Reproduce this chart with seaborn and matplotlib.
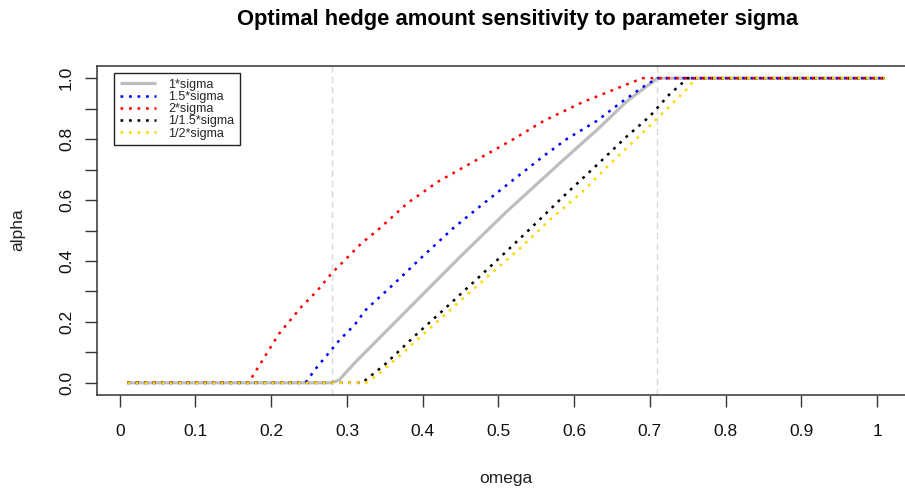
import numpy as np
import pandas as pd
import matplotlib
matplotlib.use("Agg")
import matplotlib.pyplot as plt
from matplotlib.ticker import FixedLocator, FixedFormatter
import seaborn as sns

# Optimal hedge ratio alpha as a function of omega, for scaled volatilities
omega_1 = [0.01, 0.28, 0.29, 0.31, 0.34, 0.38, 0.45, 0.51, 0.585, 0.63, 0.67, 0.71, 1.01]
alpha_1 = [0, 0, 0.01, 0.065, 0.14, 0.24, 0.415, 0.56, 0.73, 0.83, 0.925, 1.0, 1.0]

omega_15 = [0.01, 0.245, 0.26, 0.28, 0.29, 0.31, 0.325, 0.36, 0.40, 0.44, 0.48, 0.52, 0.56, 0.59, 0.63, 0.66, 0.69, 0.71, 1.01]
alpha_15 = [0, 0, 0.05, 0.11, 0.14, 0.19, 0.24, 0.32, 0.415, 0.507, 0.588, 0.667, 0.745, 0.80, 0.86, 0.917, 0.97, 1.0, 1.0]

omega_2 = [0.01, 0.17, 0.19, 0.21, 0.24, 0.26, 0.28, 0.30, 0.32, 0.34, 0.38, 0.42, 0.47, 0.52, 0.56, 0.61, 0.66, 0.69, 1.01]
alpha_2 = [0, 0, 0.08, 0.16, 0.25, 0.30, 0.36, 0.41, 0.46, 0.50, 0.59, 0.66, 0.73, 0.80, 0.86, 0.92, 0.97, 1.0, 1.0]

omega_inv15 = [0.01, 0.32, 0.35, 0.39, 0.43, 0.47, 0.51, 0.55, 0.585, 0.63, 0.67, 0.70, 0.725, 0.75, 1.01]
alpha_inv15 = [0, 0, 0.06, 0.155, 0.245, 0.337, 0.43, 0.525, 0.61, 0.715, 0.81, 0.875, 0.945, 1.0, 1.0]

omega_inv2 = [0.01, 0.325, 0.34, 0.37, 0.41, 0.45, 0.49, 0.53, 0.57, 0.61, 0.65, 0.69, 0.72, 0.75, 0.76, 1.01]
alpha_inv2 = [0, 0, 0.025, 0.09, 0.18, 0.27, 0.358, 0.445, 0.54, 0.625, 0.725, 0.82, 0.893, 0.967, 1.0, 1.0]

series_names = ["1*sigma", "1.5*sigma", "2*sigma", "1/1.5*sigma", "1/2*sigma"]
series_omega = [omega_1, omega_15, omega_2, omega_inv15, omega_inv2]
series_alpha = [alpha_1, alpha_15, alpha_2, alpha_inv15, alpha_inv2]
series_colors = ["#BEBEBE", "#0000FF", "#FF0000", "#000000", "#FFD700"]

omega_bounds = [0.28, 0.71]

x_ticks = [0, 0.1, 0.2, 0.3, 0.4, 0.5, 0.6, 0.7, 0.8, 0.9, 1.0]
x_tick_labels = ["0", "0.1", "0.2", "0.3", "0.4", "0.5", "0.6", "0.7", "0.8", "0.9", "1"]
y_ticks = [0, 0.1, 0.2, 0.3, 0.4, 0.5, 0.6, 0.7, 0.8, 0.9, 1.0]
y_tick_labels = ["0.0", "", "0.2", "", "0.4", "", "0.6", "", "0.8", "", "1.0"]

frames = []
for name, om, al in zip(series_names, series_omega, series_alpha):
    frames.append(pd.DataFrame({"series": name, "omega": om, "alpha": al}))
df = pd.concat(frames, ignore_index=True)

sns.set_theme(style="white")
plt.rcParams["font.family"] = ["Liberation Sans", "DejaVu Sans"]

W, H = 905, 488
fig = plt.figure(figsize=(W / 100, H / 100), dpi=100)
ax_left, ax_right, ax_top, ax_bottom = 97, 915, 66, 395
ax = fig.add_axes([ax_left / W, 1 - ax_bottom / H, (ax_right - ax_left) / W, (ax_bottom - ax_top) / H])

for b in omega_bounds:
    ax.axvline(b, color="#D8D8D8", linewidth=1.0, linestyle=(0, (4.5, 3.0)), zorder=1)

for name, color in zip(series_names, series_colors):
    sub = df[df["series"] == name]
    if name == "1*sigma":
        style = dict(linewidth=2.3, linestyle="-", solid_capstyle="butt")
    else:
        style = dict(linewidth=1.8, linestyle=(0, (1.1, 2.3)))
    sns.lineplot(data=sub, x="omega", y="alpha", color=color, label=name,
                 estimator=None, sort=False, ax=ax, zorder=2, **style)

ax.set_xlim(-0.03, 1.05)
ax.set_ylim(-0.04, 1.04)
ax.set_xlabel("")
ax.set_ylabel("")

ax.xaxis.set_major_locator(FixedLocator(x_ticks))
ax.xaxis.set_major_formatter(FixedFormatter(x_tick_labels))
ax.yaxis.set_major_locator(FixedLocator(y_ticks))
ax.yaxis.set_major_formatter(FixedFormatter(y_tick_labels))

ax.tick_params(axis="both", which="major", direction="out", length=8.6, width=1.0,
               color="#333333", labelsize=12.5, labelcolor="#111111",
               bottom=True, left=True)
ax.tick_params(axis="x", pad=12)
ax.tick_params(axis="y", pad=8)
for lbl in ax.get_yticklabels():
    lbl.set_rotation(90)
    lbl.set_va("center")

for side in ["top", "left", "bottom", "right"]:
    ax.spines[side].set_visible(True)
    ax.spines[side].set_color("#333333")
    ax.spines[side].set_linewidth(1.1)

leg = ax.legend(loc="upper left", bbox_to_anchor=(114 / W, 1 - 73 / H),
                bbox_transform=fig.transFigure, fontsize=9, frameon=True,
                fancybox=False, framealpha=1, edgecolor="#222222",
                borderpad=0.45, labelspacing=0.02, handlelength=2.9,
                handletextpad=1.0, borderaxespad=0)
leg.get_frame().set_linewidth(1.0)

fig.text(518 / W, 1 - 20 / H, "Optimal hedge amount sensitivity to parameter sigma",
         ha="center", va="center", fontsize=15.8, fontweight="bold", color="#000000")
fig.text(506 / W, 1 - 478 / H, "omega", ha="center", va="center", fontsize=12.5, color="#222222")
fig.text(17.5 / W, 1 - 230 / H, "alpha", ha="center", va="center", rotation=90,
         fontsize=12.5, color="#222222")

fig.savefig("out.png", dpi=100, facecolor="white")
